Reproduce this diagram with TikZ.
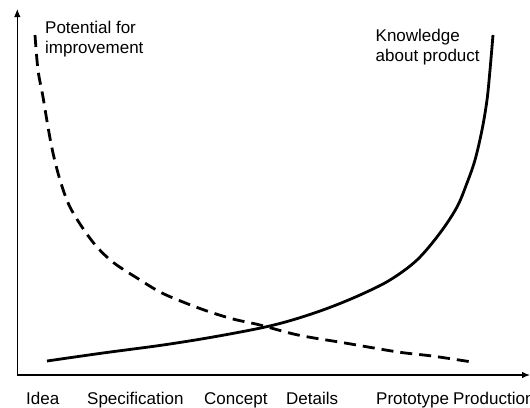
\documentclass[tikz,border=0pt]{standalone}
\usepackage{fontspec}
\setmainfont{Liberation Sans}
\usetikzlibrary{arrows.meta}
\begin{document}
\begin{tikzpicture}[x=1pt,y=-1pt,
  axis/.style={line width=1.1pt,-{Latex[length=8pt,width=6.5pt]}},
  curve/.style={line width=2.8pt},
  dashcurve/.style={line width=2.8pt,dash pattern=on 12pt off 7pt},
  lbl/.style={anchor=base west,inner sep=0pt,font=\fontsize{17}{20}\selectfont},
  mlbl/.style={anchor=north west,inner sep=0pt,align=left,font=\fontsize{17}{20}\selectfont}]
\useasboundingbox (0,0) rectangle (530,407);
\coordinate (O) at (17.3,375);
\coordinate (ytop) at (17.3,9);
\coordinate (xend) at (530,375);
\draw[axis] (O) -- (ytop);
\draw[axis] (O) -- (xend);
% Knowledge curve
\draw[curve] plot[smooth,tension=0.55] coordinates {(47,361) (103,353) (163,345) (213,337) (263,327.5) (294,319.5) (327,308.5) (360,295) (390,280) (417,260) (440,233) (457,207) (467,183) (475,160) (482,130) (487,100) (490,70) (493,35)};
% Potential curve
\draw[dashcurve] plot[smooth,tension=0.55] coordinates {(35,35) (38,70) (43,97) (48,127) (53,153) (60,180) (69,205) (82,227) (97,247) (114,263) (137,278) (160,292) (183,302) (207,311) (233,319) (260,325) (298,335) (345,343) (398,352) (432,356) (472,362)};
% texts
\node[mlbl] (pot) at (45,21) {Potential for\\improvement};
\node[mlbl] (know) at (375.5,28.5) {Knowledge\\about product};
\node[lbl] (idea) at (26,404) {Idea};
\node[lbl] (spec) at (87,404) {Specification};
\node[lbl] (conc) at (204,404) {Concept};
\node[lbl] (det) at (286,404) {Details};
\node[lbl] (proto) at (376,404) {Prototype};
\node[lbl] (prod) at (453,404) {Production};
\end{tikzpicture}
\end{document}
